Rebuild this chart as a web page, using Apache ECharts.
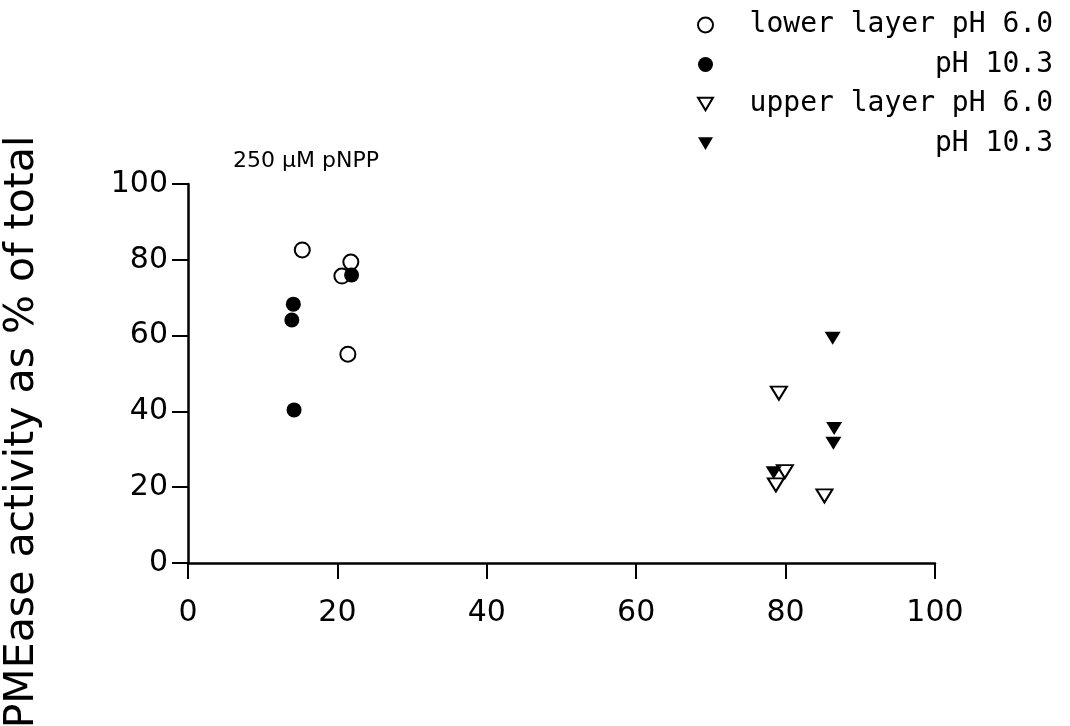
<!DOCTYPE html>
<html>
<head>
<meta charset="utf-8">
<script src="https://cdn.jsdelivr.net/npm/echarts@6/dist/echarts.min.js"></script>
<style>html,body{margin:0;padding:0;background:#fff;}#c{width:1070px;height:726px;}</style>
</head>
<body>
<div id="c"></div>
<script>
// Data (x, y) pairs
var lowerPH60 = [[15.3, 82.6], [21.8, 79.4], [20.6, 75.7], [21.4, 55.1]];
var lowerPH103 = [[14.1, 68.3], [13.9, 64.1], [21.9, 76.0], [14.2, 40.4]];
var upperPH60 = [[79.1, 44.8], [79.9, 24.1], [78.7, 20.6], [85.2, 17.7]];
var upperPH103 = [[86.3, 59.3], [86.5, 35.5], [86.4, 31.6], [78.4, 23.8]];
var seriesNames = ['lower layer pH 6.0', 'lower layer pH 10.3', 'upper layer pH 6.0', 'upper layer pH 10.3'];
var legendLabels = ['lower layer pH 6.0', 'pH 10.3', 'upper layer pH 6.0', 'pH 10.3'];
var xTicks = [0, 20, 40, 60, 80, 100];
var yTicks = [0, 20, 40, 60, 80, 100];
var yTitle = 'PMEase activity as % of total';
var panelTitle = '250 \u03bcM pNPP';

var FONT = 'DejaVu Sans';
var triDown = 'path://M0,0 L10,0 L5,8.5 Z';
var chart = echarts.init(document.getElementById('c'), null, {renderer: 'canvas'});

function mk(name, data, symbol, size, filled) {
  return {
    name: name, type: 'scatter', data: data, symbol: symbol, symbolSize: size,
    itemStyle: {color: filled ? '#000' : '#fff', borderColor: '#000', borderWidth: filled ? 0 : 2, opacity: 1},
    emphasis: {disabled: true}
  };
}

chart.setOption({
  animation: false,
  backgroundColor: '#fff',
  grid: {left: 188, right: 135, top: 184, bottom: 163, containLabel: false},
  xAxis: {
    type: 'value', min: 0, max: 100, interval: 20,
    axisLine: {show: true, onZero: false, lineStyle: {color: '#000', width: 2.5}},
    axisTick: {show: true, inside: false, length: 16, lineStyle: {color: '#000', width: 2}},
    axisLabel: {color: '#000', fontFamily: FONT, fontSize: 30, margin: 35,
      formatter: function (v) { return xTicks.indexOf(v) >= 0 ? String(v) : ''; }},
    splitLine: {show: false}
  },
  yAxis: {
    type: 'value', min: 0, max: 100, interval: 20,
    axisLine: {show: true, onZero: false, lineStyle: {color: '#000', width: 2.5}},
    axisTick: {show: true, inside: false, length: 16, lineStyle: {color: '#000', width: 2}},
    axisLabel: {color: '#000', fontFamily: FONT, fontSize: 30, margin: 20,
      formatter: function (v) { return yTicks.indexOf(v) >= 0 ? String(v) : ''; }},
    splitLine: {show: false}
  },
  legend: {
    orient: 'vertical', left: 692, top: 6, itemWidth: 15, itemHeight: 15, itemGap: 11.5,
    selectedMode: false,
    data: seriesNames,
    formatter: function (n) { return '{a|' + legendLabels[seriesNames.indexOf(n)] + '}'; },
    textStyle: {color: '#000', fontFamily: 'DejaVu Sans Mono', fontSize: 28,
      rich: {a: {width: 335, align: 'right', fontFamily: 'DejaVu Sans Mono', fontSize: 28, color: '#000'}}}
  },
  graphic: [
    {type: 'text', left: 233, top: 150, style: {text: panelTitle, font: '22px "DejaVu Sans"', fill: '#000'}},
    {type: 'text', x: 22, y: 432, rotation: Math.PI / 2,
      style: {text: yTitle, font: '41px "DejaVu Sans"', fill: '#000', align: 'center', verticalAlign: 'middle'}}
  ],
  series: [
    mk(seriesNames[0], lowerPH60, 'circle', 15, false),
    mk(seriesNames[1], lowerPH103, 'circle', 15, true),
    mk(seriesNames[2], upperPH60, triDown, [16, 13], false),
    mk(seriesNames[3], upperPH103, triDown, [16, 13], true)
  ]
});
</script>
</body>
</html>
